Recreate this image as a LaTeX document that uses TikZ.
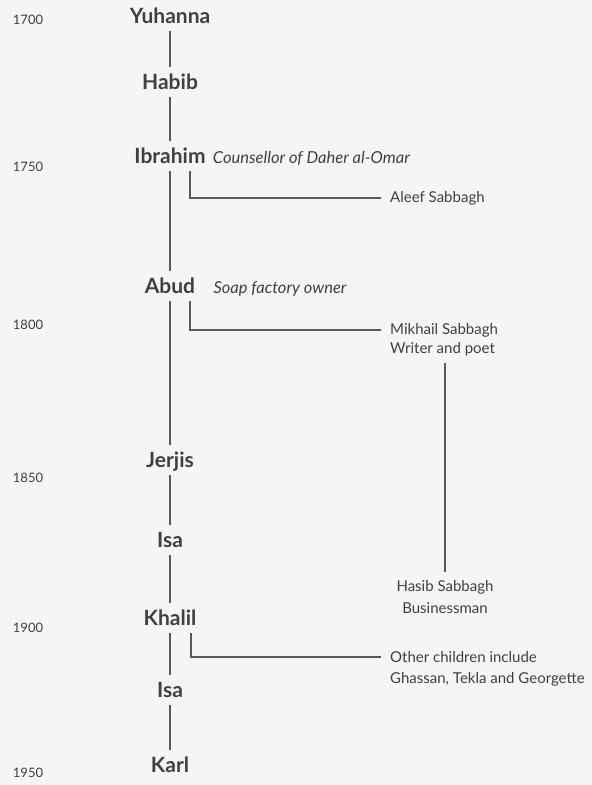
\documentclass[tikz,border=0pt]{standalone}
\usepackage{fontspec}
\setmainfont{Lato}
\usetikzlibrary{positioning}
\tikzset{
	ancestor/.style={font=\fontsize{21}{23}\selectfont\bfseries, text=black!75, inner sep=2pt, text height=14.5pt, text depth=3pt},
	year/.style={font=\fontsize{13}{15}\selectfont, text=black!75},
	note/.style={font=\fontsize{16.5}{18}\selectfont\itshape, text=black!75, inner sep=0pt},
	kin/.style={font=\fontsize{15}{17}\selectfont, text=black!75, inner sep=1pt},
	link/.style={draw=black!65, line width=1.3pt}
}

\begin{document}
\begin{tikzpicture}[x=1pt, y=-1pt]
\useasboundingbox[fill=black!4] (0,0) rectangle (592,785);

% years
\node[year] (y1700) at (28,20) {1700};
\node[year] (y1750) at (28,167) {1750};
\node[year] (y1800) at (28,325) {1800};
\node[year] (y1850) at (28,478) {1850};
\node[year] (y1900) at (28,628) {1900};
\node[year] (y1950) at (28,773) {1950};

% main line
\node[ancestor] (yuhanna) at (170,18) {Yuhanna};
\node[ancestor] (habib) at (170,84) {Habib};
\node[ancestor] (ibrahim) at (170,158) {Ibrahim};
\node[ancestor] (abud) at (170,288) {Abud};
\node[ancestor] (jerjis) at (170,462) {Jerjis};
\node[ancestor] (isaA) at (170,542) {Isa};
\node[ancestor] (khalil) at (170,620) {Khalil};
\node[ancestor] (isaB) at (170,692) {Isa};
\node[ancestor] (karl) at (170,767) {Karl};

\node[note, anchor=base west] (counsel) at ([xshift=5pt]ibrahim.base east) {Counsellor of Daher al-Omar};
\node[note, anchor=base west] (soap) at ([xshift=16pt]abud.base east) {Soap factory owner};

% side branches
\node[kin, anchor=west] (aleef) at (389,198) {Aleef Sabbagh};
\node[kin, anchor=west] (mikhail) at (389,330) {Mikhail Sabbagh};
\node[kin, anchor=base west] (poet) at ([yshift=-19pt]mikhail.base west) {Writer and poet};
\node[kin] (hasib) at (445,587) {Hasib Sabbagh};
\node[kin, anchor=base] (business) at ([yshift=-22pt]hasib.base) {Businessman};
\node[kin, anchor=west] (others) at (389,657) {Other children include};
\node[kin, anchor=base west] (ghassan) at ([yshift=-21pt]others.base west) {Ghassan, Tekla and Georgette};

\draw[link, shorten <=2pt, shorten >=6pt] (yuhanna.south) -- (habib.north);
\draw[link, shorten <=2pt, shorten >=6pt] (habib.south) -- (ibrahim.north);
\draw[link, shorten <=2pt, shorten >=6pt] (ibrahim.south) -- (abud.north);
\draw[link, shorten <=2pt, shorten >=6pt] (abud.south) -- (jerjis.north);
\draw[link, shorten <=2pt, shorten >=6pt] (jerjis.south) -- (isaA.north);
\draw[link, shorten <=2pt, shorten >=6pt] (isaA.south) -- (khalil.north);
\draw[link, shorten <=2pt, shorten >=6pt] (khalil.south) -- (isaB.north);
\draw[link, shorten <=2pt, shorten >=6pt] (isaB.south) -- (karl.north);

\draw[link, shorten <=2pt, shorten >=8pt] ([xshift=20pt]ibrahim.south) |- (aleef.west);
\draw[link, shorten <=2pt, shorten >=8pt] ([xshift=20pt]abud.south) |- (mikhail.west);
\draw[link, shorten <=2pt, shorten >=8pt] ([xshift=21pt]khalil.south) |- (others.west);
\draw[link, shorten <=6pt, shorten >=7pt] (hasib.north |- poet.south) -- (hasib.north);
\end{tikzpicture}
\end{document}
